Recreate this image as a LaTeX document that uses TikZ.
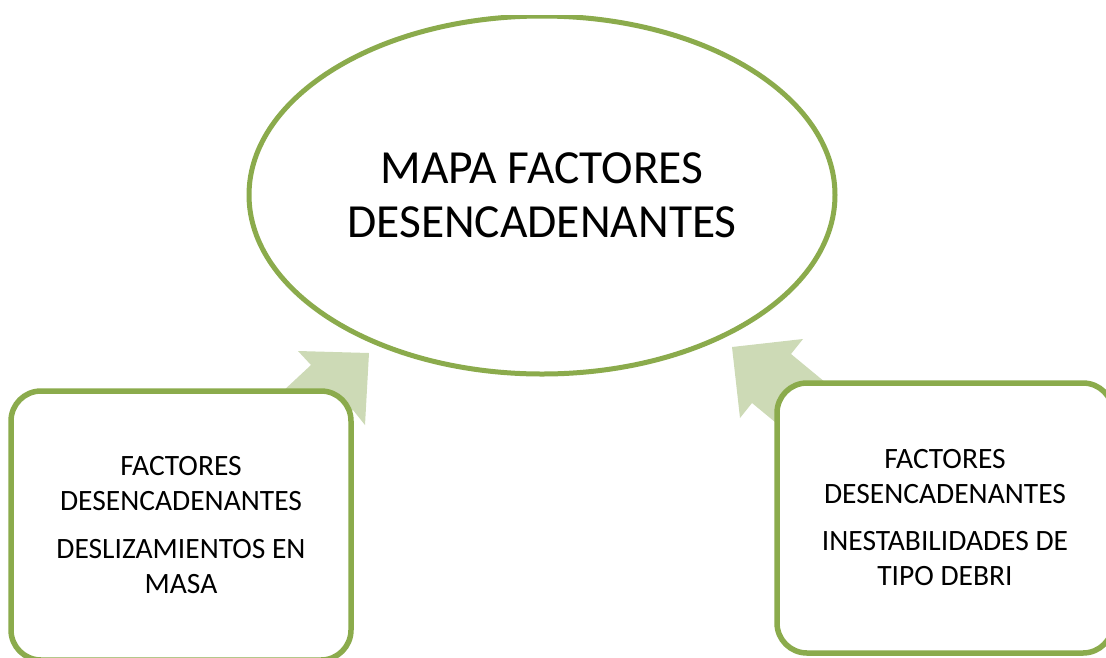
\documentclass[tikz,border=0pt]{standalone}
\usepackage{fontspec}
\setmainfont{Carlito}
\usetikzlibrary{shapes.geometric}
\definecolor{olivedge}{HTML}{8BAB4C}
\definecolor{olivefill}{HTML}{CDDAB6}
\tikzset{
  mapnode/.style={ellipse, draw=olivedge, line width=5pt, fill=white,
    minimum width=586pt, minimum height=358pt, inner sep=0pt,
    align=center, font=\fontsize{47.5}{54}\selectfont},
  factbox/.style={rectangle, rounded corners=30pt, draw=olivedge, line width=5.5pt,
    fill=white, inner sep=0pt, align=center,
    font=\fontsize{29.5}{35}\selectfont},
  blockarrow/.style={fill=olivefill, draw=none}
}
\begin{document}
\begin{tikzpicture}[x=1pt,y=-1pt]
\useasboundingbox (0,0) rectangle (1106,657);
\clip (0,0) rectangle (1106,657);
\begin{scope}
\clip (0,15.5) rectangle (1106,657);
\node[mapnode] (map) at (542,195) {MAPA FACTORES\\DESENCADENANTES};
\end{scope}
% block arrows (behind the boxes)
\coordinate (ltip) at (369,353);
\coordinate (rtip) at (732,347);
\fill[blockarrow] (ltip) -- (365,425) -- (353,410) -- (309,451) -- (267,406) -- (311,365) -- (298,351) -- cycle;
\fill[blockarrow] (rtip) -- (803,339) -- (791,354) -- (837,392) -- (798,441) -- (752,403) -- (740,418) -- cycle;
% boxes
\node[factbox, minimum width=340pt, minimum height=269pt] (left) at (181,525.5)
  {FACTORES\\DESENCADENANTES\\[13pt]DESLIZAMIENTOS EN\\MASA};
\node[factbox, minimum width=336pt, minimum height=270pt] (right) at (945,518)
  {FACTORES\\DESENCADENANTES\\[12pt]INESTABILIDADES DE\\TIPO DEBRI};
\end{tikzpicture}
\end{document}
